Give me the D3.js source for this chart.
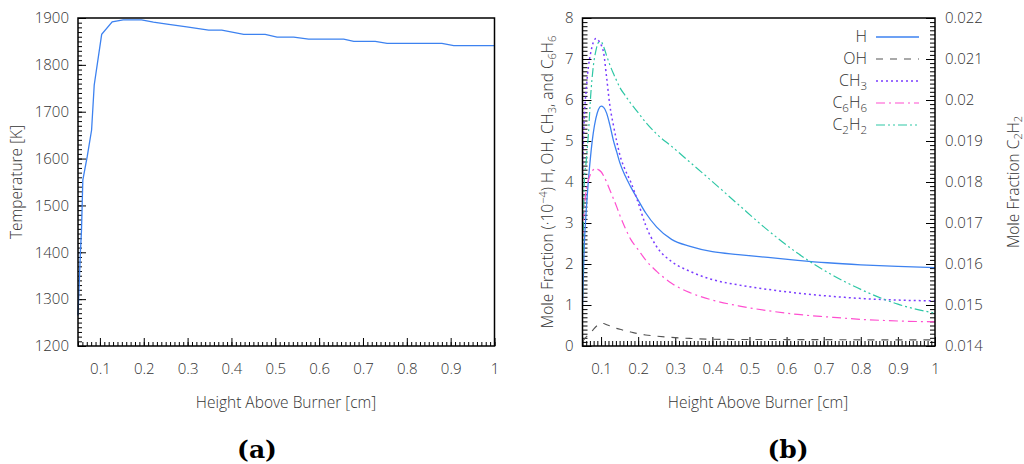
<!DOCTYPE html>
<html><head><meta charset="utf-8">
<script src="https://cdn.jsdelivr.net/npm/d3@7"></script>
<style>
body{margin:0;background:#fff;}
svg text{font-family:"Open Sans","Lato",sans-serif;font-weight:300;fill:#333;}
</style></head><body>
<svg id="c" width="1024" height="464"></svg>
<script>
// ---------- data ----------
const tempX = [0.05,0.0555,0.058,0.061,0.071,0.081,0.087,0.104,0.128,0.153,0.195,0.222,0.253,0.298,0.348,0.378,0.428,0.477,0.504,0.542,0.576,0.656,0.679,0.728,0.755,0.88,0.907,1.0];
const tempK = [1265,1400,1447,1554,1604,1661,1757,1865,1892,1896,1896,1891,1887,1881,1874,1874,1865,1865,1859,1859,1855,1855,1850,1850,1846,1846,1841,1841];

const heightCm = [0.05,0.055,0.06,0.066,0.072,0.079,0.086,0.093,0.1,0.107,0.115,0.124,0.133,0.142,0.151,0.165,0.18,0.2,0.22,0.25,0.29,0.34,0.4,0.47,0.55,0.63,0.71,0.8,0.9,1.0];
const hVals    = [1.0,2.5,3.3,4.05,4.65,5.19,5.55,5.77,5.85,5.82,5.68,5.38,5.02,4.74,4.46,4.15,3.88,3.56,3.25,2.9,2.6,2.43,2.3,2.23,2.16,2.09,2.03,1.98,1.94,1.91];
const ohVals   = [0.12,0.17,0.22,0.28,0.33,0.4,0.47,0.52,0.55,0.55,0.52,0.49,0.46,0.43,0.41,0.37,0.34,0.30,0.27,0.24,0.21,0.185,0.165,0.16,0.16,0.155,0.155,0.15,0.15,0.15];
const ch3Vals  = [4.2,5.6,6.25,6.81,7.15,7.4,7.5,7.45,7.35,7.15,6.55,5.85,5.4,5.0,4.65,4.3,4.0,3.5,2.95,2.42,2.06,1.82,1.62,1.49,1.38,1.29,1.22,1.16,1.12,1.10];
const c6h6Vals = [2.6,3.4,3.8,4.05,4.2,4.3,4.33,4.3,4.25,4.15,4.0,3.8,3.6,3.4,3.18,2.88,2.6,2.35,2.1,1.82,1.53,1.3,1.12,0.98,0.86,0.77,0.71,0.65,0.61,0.59];
const c2h2Vals = [0.0152,0.01805,0.0185,0.01919,0.0201,0.02081,0.0212,0.0214,0.02142,0.0213,0.02108,0.02085,0.02065,0.02047,0.0203,0.02011,0.01992,0.01969,0.01946,0.01917,0.01887,0.01848,0.01801,0.01745,0.01682,0.01626,0.01580,0.01538,0.01502,0.0148];

const xTicks = [0.1,0.2,0.3,0.4,0.5,0.6,0.7,0.8,0.9,1];
const tempTicks = [1200,1300,1400,1500,1600,1700,1800,1900];
const leftTicks = [0,1,2,3,4,5,6,7,8];
const rightTicks = [0.014,0.015,0.016,0.017,0.018,0.019,0.02,0.021,0.022];

const svg = d3.select("#c");
const fmtX = d => d===1 ? "1" : d3.format(".1f")(d);
const TF = 15;

function frame(g, x0, x1, y0, y1){
  g.append("rect").attr("x",x0).attr("y",y0).attr("width",x1-x0).attr("height",y1-y0)
   .attr("fill","none").attr("stroke","#000").attr("stroke-width",1.5);
}
function styleAxis(sel){
  sel.select(".domain").remove();
  sel.selectAll("line").attr("stroke","#000").attr("stroke-width",1);
  sel.selectAll("text").attr("font-size",TF).attr("fill","#333");
}

// ---------- chart (a) ----------
{
  const x = d3.scaleLinear().domain([0.05,1]).range([78,494.5]);
  const y = d3.scaleLinear().domain([1200,1900]).range([346,18]);
  const g = svg.append("g");
  g.append("g").attr("transform","translate(0,346)")
    .call(d3.axisBottom(x).tickValues(d3.range(5,101).map(i=>i/100)).tickFormat("").tickSize(-4)).call(styleAxis);
  g.append("g").attr("transform","translate(78,0)")
    .call(d3.axisLeft(y).tickValues(d3.range(120,191).map(i=>i*10)).tickFormat("").tickSize(-4)).call(styleAxis);
  g.append("g").attr("transform","translate(0,346)")
    .call(d3.axisBottom(x).tickValues(xTicks).tickFormat(fmtX).tickSize(-8).tickPadding(17)).call(styleAxis);
  g.append("g").attr("transform","translate(78,0)")
    .call(d3.axisLeft(y).tickValues(tempTicks).tickFormat(d3.format("d")).tickSize(-8).tickPadding(9)).call(styleAxis);
  const line = d3.line().x((d,i)=>x(tempX[i])).y(d=>y(d));
  g.append("path").attr("d",line(tempK)).attr("fill","none").attr("stroke","#3d82f0").attr("stroke-width",1.3);
  frame(g,78,494.5,18,346);
  g.append("text").attr("x",286).attr("y",408).attr("text-anchor","middle").attr("font-size",15.5).text("Height Above Burner [cm]");
  g.append("text").attr("transform","translate(22,182) rotate(-90)").attr("text-anchor","middle").attr("font-size",15.5).text("Temperature [K]");
  g.append("text").attr("x",257).attr("y",458).attr("text-anchor","middle").attr("font-size",25)
    .style("font-family","'DejaVu Serif',serif").style("font-weight","bold").style("fill","#000").text("(a)");
}

// ---------- chart (b) ----------
{
  const X0=582.5, X1=935;
  const x = d3.scaleLinear().domain([0.05,1]).range([X0,X1]);
  const y = d3.scaleLinear().domain([0,8]).range([346,18]);
  const y2 = d3.scaleLinear().domain([0.014,0.022]).range([346,18]);
  const g = svg.append("g");
  g.append("g").attr("transform","translate(0,346)")
    .call(d3.axisBottom(x).tickValues(d3.range(5,101).map(i=>i/100)).tickFormat("").tickSize(-5)).call(styleAxis);
  g.append("g").attr("transform",`translate(${X0},0)`)
    .call(d3.axisLeft(y).tickValues(d3.range(0,81).map(i=>i/10)).tickFormat("").tickSize(-5)).call(styleAxis);
  g.append("g").attr("transform",`translate(${X1},0)`)
    .call(d3.axisRight(y2).tickValues(d3.range(140,221).map(i=>i/10000)).tickFormat("").tickSize(-5)).call(styleAxis);
  g.append("g").attr("transform","translate(0,346)")
    .call(d3.axisBottom(x).tickValues(xTicks).tickFormat(fmtX).tickSize(-9).tickPadding(17)).call(styleAxis);
  g.append("g").attr("transform",`translate(${X0},0)`)
    .call(d3.axisLeft(y).tickValues(leftTicks).tickFormat(d3.format("d")).tickSize(-9).tickPadding(9)).call(styleAxis);
  g.append("g").attr("transform",`translate(${X1},0)`)
    .call(d3.axisRight(y2).tickValues(rightTicks).tickFormat(d=>d===0.02?"0.02":d3.format(".3f")(d)).tickSize(-9).tickPadding(10)).call(styleAxis);

  const series = [
    {name:"H", vals:hVals, sc:y, color:"#3d82f0", dash:null, w:1.3},
    {name:"OH", vals:ohVals, sc:y, color:"#555", dash:"7,7", w:1.1},
    {name:"CH3", vals:ch3Vals, sc:y, color:"#7a3cff", dash:"2,3", w:1.5},
    {name:"C6H6", vals:c6h6Vals, sc:y, color:"#ff4fd0", dash:"9,4,2,4", w:1.2},
    {name:"C2H2", vals:c2h2Vals, sc:y2, color:"#2ec7a5", dash:"9,3,2,3,2,3", w:1.2}
  ];
  g.append("clipPath").attr("id","clipb").append("rect").attr("x",X0).attr("y",18).attr("width",X1-X0).attr("height",328);
  series.forEach(s=>{
    const line = d3.line().curve(d3.curveMonotoneX).x((d,i)=>x(heightCm[i])).y(d=>s.sc(d));
    g.append("path").attr("clip-path","url(#clipb)").attr("d",line(s.vals)).attr("fill","none")
      .attr("stroke",s.color).attr("stroke-width",s.w).attr("stroke-dasharray",s.dash);
  });
  frame(g,X0,X1,18,346);

  // legend
  const labels = [["H"],["OH"],["CH","3"],["C","6","H","6"],["C","2","H","2"]];
  const lg = g.append("g");
  series.forEach((s,i)=>{
    const yy = 37 + i*22;
    lg.append("line").attr("x1",876).attr("x2",919).attr("y1",yy).attr("y2",yy)
      .attr("stroke",s.color).attr("stroke-width",s.w).attr("stroke-dasharray",s.dash);
    const t = lg.append("text").attr("x",867).attr("y",yy+5).attr("text-anchor","end").attr("font-size",16);
    labels[i].forEach((p,j)=>{
      const sub = j%2===1;
      t.append("tspan").attr("font-size",sub?11.5:16).attr("dy",sub?4:(j>0?-4:0)).text(p);
    });
  });

  g.append("text").attr("x",758).attr("y",408).attr("text-anchor","middle").attr("font-size",15.5).text("Height Above Burner [cm]");
  const yt = g.append("text").attr("transform","translate(553,182) rotate(-90)").attr("text-anchor","middle").attr("font-size",15.5);
  yt.append("tspan").text("Mole Fraction (·10");
  yt.append("tspan").attr("font-size",11).attr("dy",-6).text("−4");
  yt.append("tspan").attr("dy",6).text(")  H, OH, CH");
  yt.append("tspan").attr("font-size",11).attr("dy",3).text("3");
  yt.append("tspan").attr("dy",-3).text(", and C");
  yt.append("tspan").attr("font-size",11).attr("dy",3).text("6");
  yt.append("tspan").attr("dy",-3).text("H");
  yt.append("tspan").attr("font-size",11).attr("dy",3).text("6");
  const yt2 = g.append("text").attr("transform","translate(1019,182) rotate(-90)").attr("text-anchor","middle").attr("font-size",15.5);
  yt2.append("tspan").text("Mole Fraction C");
  yt2.append("tspan").attr("font-size",11).attr("dy",3).text("2");
  yt2.append("tspan").attr("dy",-3).text("H");
  yt2.append("tspan").attr("font-size",11).attr("dy",3).text("2");
  g.append("text").attr("x",788).attr("y",458).attr("text-anchor","middle").attr("font-size",25)
    .style("font-family","'DejaVu Serif',serif").style("font-weight","bold").style("fill","#000").text("(b)");
}
</script></body></html>
